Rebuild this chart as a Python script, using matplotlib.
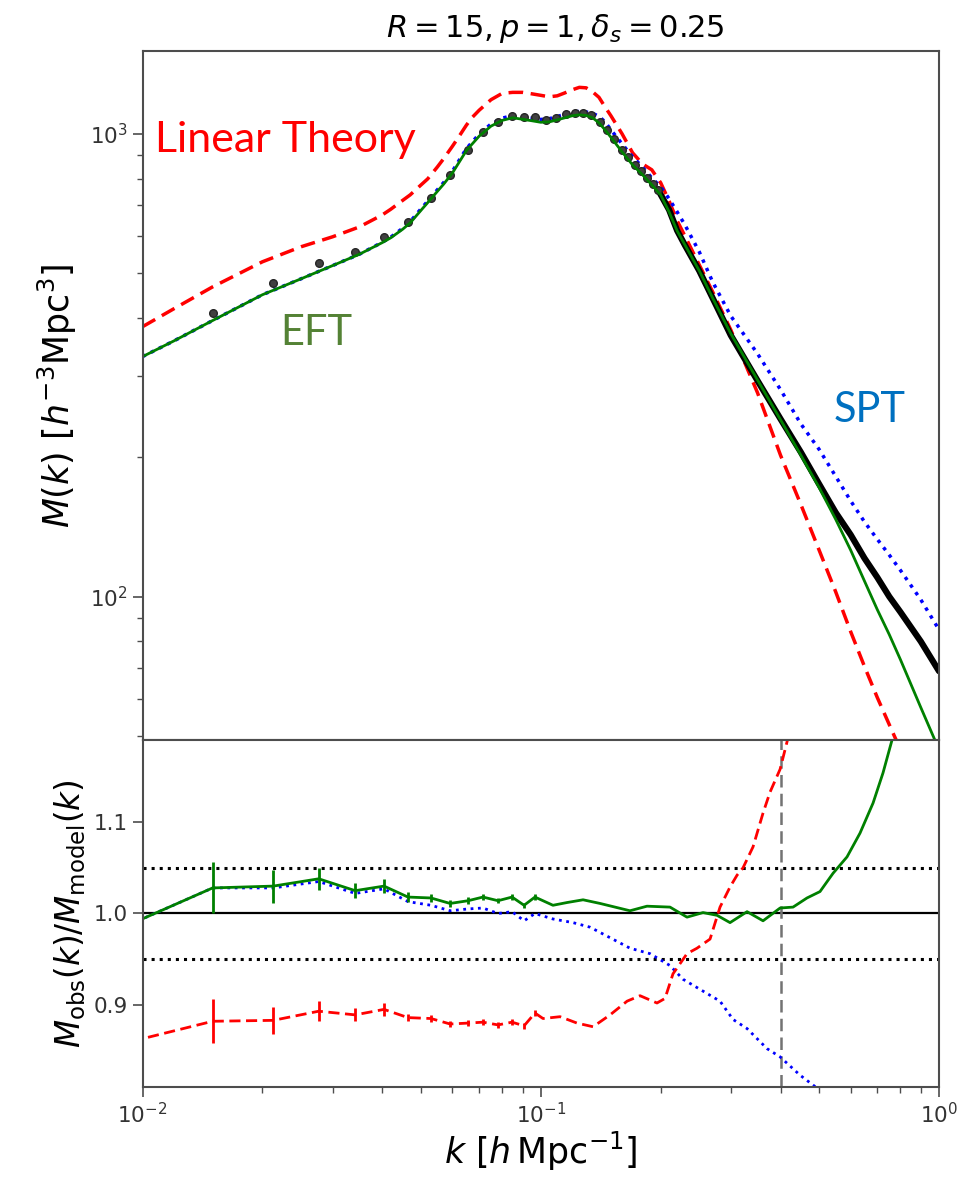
import matplotlib
matplotlib.use('Agg')
import matplotlib.pyplot as plt

# ---------------- top panel: model curves ----------------
k_model = [0.01, 0.012, 0.015, 0.02, 0.025, 0.03, 0.035, 0.04, 0.042, 0.045,
           0.047, 0.05, 0.052, 0.055, 0.057, 0.06, 0.062, 0.065, 0.067, 0.07,
           0.075, 0.08, 0.085, 0.09, 0.095, 0.1, 0.105, 0.11, 0.115, 0.12,
           0.125, 0.13, 0.135, 0.14, 0.145, 0.15, 0.16, 0.17, 0.18, 0.19,
           0.2, 0.21, 0.22, 0.23, 0.25, 0.27, 0.3, 0.35, 0.4, 0.45,
           0.5, 0.55, 0.6, 0.65, 0.7, 0.75, 0.8, 0.9, 1.0]
M_linear = [383, 419, 467, 529, 570, 599, 629, 668, 687, 718,
            738, 775, 799, 848, 883, 940, 980, 1043, 1081, 1124,
            1185, 1223, 1229, 1229, 1220, 1211, 1202, 1208, 1226, 1245,
            1260, 1257, 1232, 1199, 1143, 1094, 1000, 910, 861, 836,
            784, 716, 649, 602, 521, 456, 377, 276, 202, 158,
            126, 102.5, 84, 70.6, 60.5, 52.9, 46.7, 37.4, 30]
M_eft = [330, 357, 395, 449, 486, 519, 549, 582, 596, 622,
         642, 683, 710, 751, 778, 823, 861, 919, 947, 988,
         1039, 1069, 1083, 1075, 1067, 1059, 1061, 1072, 1083, 1094,
         1099, 1096, 1083, 1056, 1020, 983, 914, 857, 816, 776,
         738, 678, 617, 576, 506, 442, 370, 294, 241, 202,
         172, 147, 126, 108, 93.7, 82.8, 73.1, 57.6, 46.7]
M_spt = [330, 357, 395, 449, 486, 519, 549, 583, 598, 625,
         646, 688, 715, 757, 784, 830, 869, 928, 956, 998,
         1050, 1081, 1095, 1088, 1081, 1074, 1078, 1090, 1102, 1114,
         1118, 1115, 1107, 1091, 1061, 1020, 951, 892, 848, 803,
         768, 724, 678, 636, 556, 479, 404, 335, 280, 236,
         208, 182, 161, 145, 133, 123, 114, 98.5, 84.8]

# measured points (sparse at low k, dense band at high k)
k_obs = [0.015, 0.0213, 0.0277, 0.0342, 0.0404, 0.0464, 0.053, 0.0592, 0.0657, 0.0716,
         0.0781, 0.0847, 0.0908, 0.0967, 0.103, 0.109, 0.116, 0.122, 0.128, 0.134,
         0.141, 0.147, 0.153, 0.160, 0.166, 0.172, 0.178, 0.185, 0.191, 0.197]
M_obs = [411, 477, 527, 556, 599, 646, 727, 816, 924, 1010,
         1062, 1094, 1088, 1085, 1070, 1081, 1103, 1108, 1109, 1096,
         1060, 1020, 975, 923, 889, 858, 831, 804, 780, 757]
k_obs_hi = [0.197, 0.21, 0.22, 0.23, 0.25, 0.27, 0.3, 0.35, 0.4, 0.45,
            0.5, 0.55, 0.6, 0.65, 0.7, 0.75, 0.8, 0.9, 1.0]
M_obs_hi = [757, 685, 618, 575, 506, 442, 367, 293, 242, 205,
            175, 152, 136, 121, 110, 100, 92.6, 80, 69]

# ---------------- bottom panel: ratios ----------------
k_bins = [0.0094, 0.015, 0.0213, 0.0277, 0.0342, 0.0404, 0.0464, 0.053, 0.0592,
          0.0657, 0.0716, 0.0781, 0.0847, 0.0908, 0.0967]
ratio_eft_lo = [0.989, 1.028, 1.030, 1.038, 1.025, 1.030, 1.018, 1.017, 1.011,
                1.014, 1.018, 1.014, 1.018, 1.009, 1.018]
err_eft = [0.040, 0.028, 0.018, 0.012, 0.008, 0.008, 0.005, 0.004, 0.004,
           0.004, 0.003, 0.003, 0.003, 0.003, 0.003]
ratio_lin_lo = [0.860, 0.882, 0.883, 0.893, 0.889, 0.895, 0.886, 0.885, 0.879,
                0.880, 0.881, 0.878, 0.881, 0.877, 0.891]
err_lin = [0.035, 0.024, 0.015, 0.011, 0.007, 0.007, 0.004, 0.004, 0.003,
           0.003, 0.003, 0.003, 0.003, 0.003, 0.003]
ratio_spt_lo = [0.989, 1.028, 1.028, 1.035, 1.022, 1.027, 1.013, 1.009, 1.003,
                1.005, 1.006, 1.000, 1.002, 0.992, 1.000]

k_eft_hi = [0.1073, 0.1164, 0.1277, 0.1409, 0.1675, 0.1848, 0.2111, 0.2329, 0.2555,
            0.2771, 0.2987, 0.3296, 0.3615, 0.399, 0.43, 0.4661, 0.5025, 0.5418,
            0.5875, 0.6333, 0.683, 0.7234, 0.7621, 0.80]
ratio_eft_hi = [1.009, 1.012, 1.015, 1.011, 1.003, 1.008, 1.007, 0.996, 1.001,
                0.998, 0.990, 1.002, 0.992, 1.006, 1.007, 1.017, 1.024, 1.044,
                1.062, 1.088, 1.121, 1.154, 1.19, 1.24]
k_spt_hi = [0.1073, 0.1205, 0.133, 0.1675, 0.1881, 0.2111, 0.2276, 0.2555, 0.2819,
            0.3039, 0.3296, 0.37, 0.399, 0.4477, 0.4968, 0.52]
ratio_spt_hi = [0.994, 0.990, 0.985, 0.962, 0.956, 0.943, 0.928, 0.915, 0.904,
                0.884, 0.874, 0.852, 0.843, 0.823, 0.808, 0.80]
k_lin_hi = [0.1013, 0.1118, 0.1233, 0.1353, 0.1493, 0.1647, 0.1775, 0.1958, 0.2051,
            0.2148, 0.2329, 0.2468, 0.2661, 0.2819, 0.2987, 0.3111, 0.322, 0.3412,
            0.3615, 0.3765, 0.399, 0.4153, 0.43]
ratio_lin_hi = [0.885, 0.887, 0.880, 0.876, 0.889, 0.904, 0.910, 0.902, 0.907,
                0.934, 0.956, 0.962, 0.972, 1.007, 1.029, 1.042, 1.050, 1.073,
                1.110, 1.133, 1.158, 1.188, 1.22]

k_cut = 0.4

frame = '0.3'
fig = plt.figure(figsize=(9.63, 11.8), dpi=100)
ax1 = fig.add_axes([0.148, 0.3729, 0.8271, 0.5839])
ax2 = fig.add_axes([0.148, 0.0788, 0.8271, 0.2941], sharex=ax1)

# top panel
ax1.plot(k_model, M_linear, color='r', lw=2.5, dashes=(4.2, 2.2))
ax1.plot(k_model, M_spt, color='b', lw=2.5, ls=':')
ax1.plot(k_obs_hi, M_obs_hi, color='k', lw=4.5, solid_capstyle='round')
ax1.plot(k_obs, M_obs, 'o', color='0.25', ms=5.5, mec='0.15')
ax1.plot(k_model, M_eft, color='g', lw=2)
ax1.set_xscale('log')
ax1.set_yscale('log')
ax1.set_xlim(0.01, 1)
ax1.set_ylim(49, 1510)
ax1.set_ylabel(r'$M(k)\ [h^{-3}{\rm Mpc}^3]$', fontsize=25, labelpad=8)
ax1.set_title(r'$R=15, p=1, \delta_s=0.25$', fontsize=22, pad=10, x=0.518)

ax1.text(0.016, 0.871, 'Linear Theory', transform=ax1.transAxes, color='#ff0000',
         fontsize=31, family='Lato', va='center')
ax1.text(0.173, 0.591, 'EFT', transform=ax1.transAxes, color='#548235',
         fontsize=30, family='Lato', va='center')
ax1.text(0.868, 0.479, 'SPT', transform=ax1.transAxes, color='#0070c0',
         fontsize=30, family='Lato', va='center')

# bottom panel
ax2.axhline(1.0, color='k', lw=1.6)
ax2.axhline(1.05, color='k', lw=2.2, ls=':')
ax2.axhline(0.95, color='k', lw=2.2, ls=':')
ax2.axvline(k_cut, color='0.45', lw=1.8, dashes=(5, 2.5))

ax2.plot(k_bins + k_spt_hi, ratio_spt_lo + ratio_spt_hi, color='b', lw=2, ls=':')
ax2.errorbar(k_bins, ratio_lin_lo, yerr=err_lin, fmt='none', ecolor='r', elinewidth=2)
ax2.plot(k_bins + k_lin_hi, ratio_lin_lo + ratio_lin_hi, color='r', lw=2, dashes=(4, 2))
ax2.errorbar(k_bins, ratio_eft_lo, yerr=err_eft, fmt='none', ecolor='g', elinewidth=2)
ax2.plot(k_bins + k_eft_hi, ratio_eft_lo + ratio_eft_hi, color='g', lw=2)

ax2.set_xlim(0.01, 1)
ax2.set_ylim(0.81, 1.19)
ax2.set_yticks([0.9, 1.0, 1.1])
ax2.set_xlabel(r'$k\ [h\,{\rm Mpc}^{-1}]$', fontsize=25, labelpad=2)
ax2.set_ylabel(r'$M_{\rm obs}(k)/M_{\rm model}(k)$', fontsize=23.5, labelpad=4)

for ax in (ax1, ax2):
    for s in ax.spines.values():
        s.set_color(frame)
        s.set_linewidth(1.5)
    ax.tick_params(which='major', direction='out', length=7, width=1.2,
                   color=frame, labelsize=15.5, labelcolor='0.2',
                   top=False, right=False)
    ax.tick_params(which='minor', direction='out', length=4, width=1,
                   color=frame, top=False, right=False)
ax1.tick_params(axis='x', which='both', bottom=False, labelbottom=False)

fig.savefig('out.png', dpi=100)
